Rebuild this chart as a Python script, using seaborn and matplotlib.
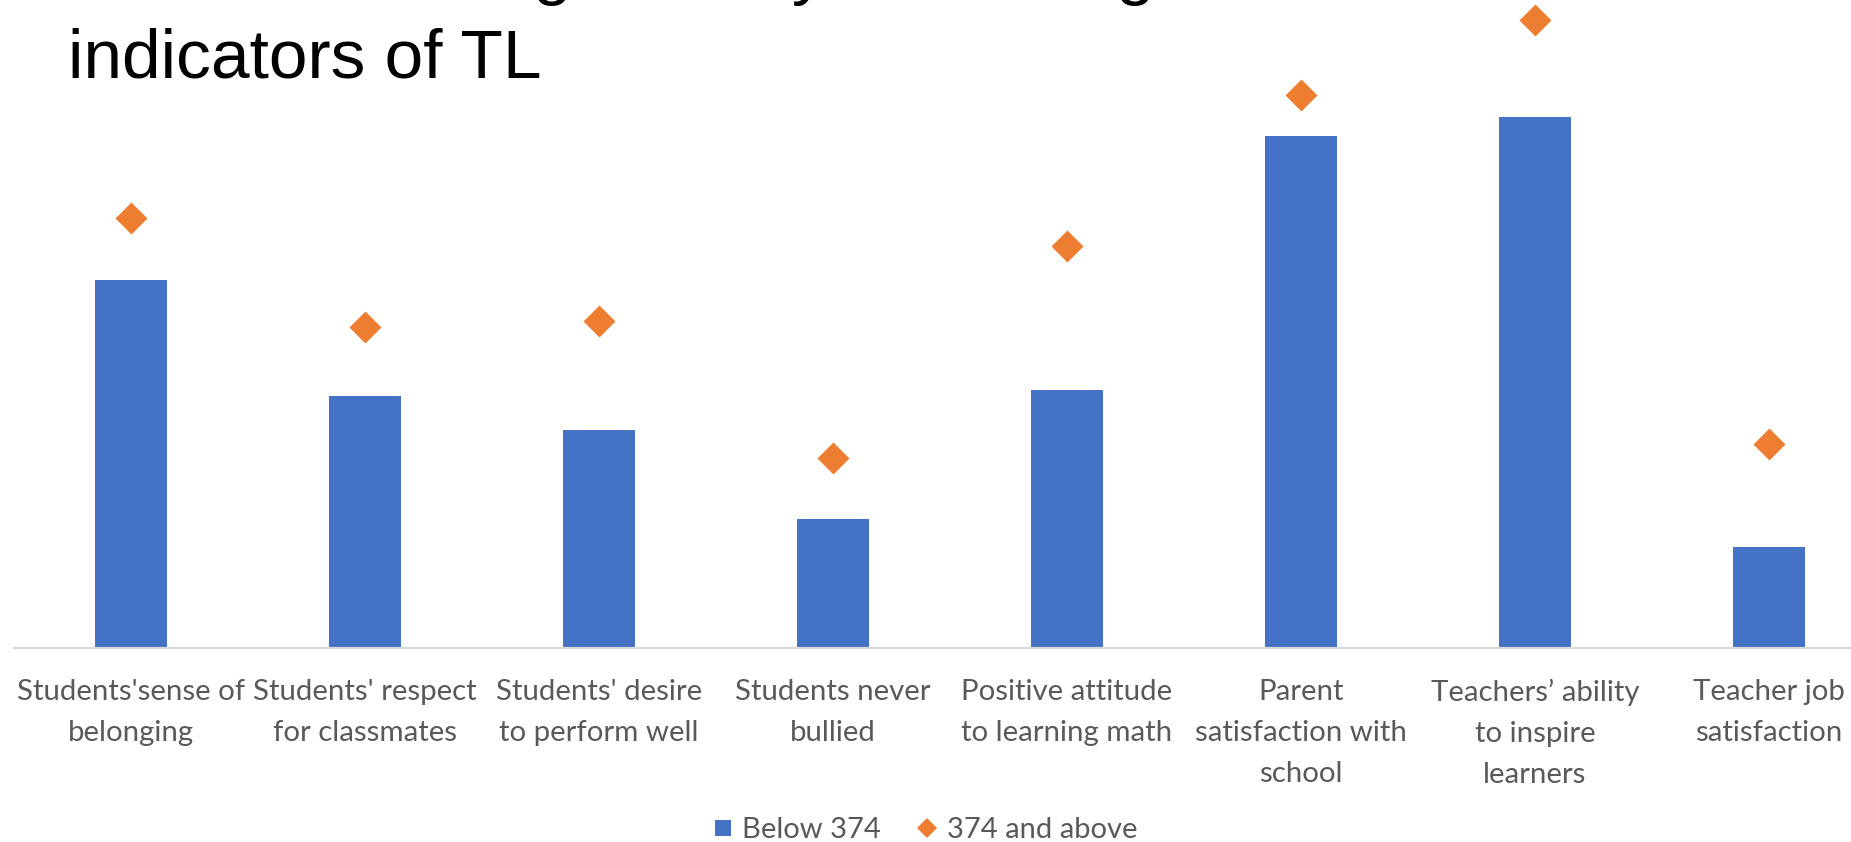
import matplotlib
matplotlib.use("Agg")
import matplotlib.pyplot as plt
from matplotlib.lines import Line2D
import seaborn as sns
import pandas as pd

categories = [
    "Students'sense of\nbelonging",
    "Students' respect\nfor classmates",
    "Students' desire\nto perform well",
    "Students never\nbullied",
    "Positive attitude\nto learning math",
    "Parent\nsatisfaction with\nschool",
    "Teachers\u2019 ability\nto inspire\nlearners",
    "Teacher job\nsatisfaction",
]
below_374 = [36.8, 25.2, 21.8, 12.9, 25.8, 51.2, 53.1, 10.1]
above_374 = [43.0, 32.1, 32.7, 19.0, 40.2, 55.3, 62.8, 20.4]
series_names = ["Below 374", "374 and above"]
title_lines = ["Schools' scoring level by the strongest", "indicators of TL"]

BLUE = "#4472C4"
ORANGE = "#ED7D31"
GREY_TXT = "#595959"

sns.set_theme(style="white")
plt.rcParams["font.family"] = ["Lato", "DejaVu Sans"]

df = pd.DataFrame({"cat": categories, "below": below_374, "above": above_374})

W, H = 1851, 842
fig = plt.figure(figsize=(W / 100, H / 100), dpi=100)
ax = fig.add_axes([14 / W, (H - 648) / H, 1872 / W, 648 / H])

sns.barplot(data=df, x="cat", y="below", color=BLUE, width=0.31,
            linewidth=0, saturation=1, ax=ax)
sns.pointplot(data=df, x="cat", y="above", color=ORANGE, markers="D",
              linestyle="none", markersize=14.5, ax=ax, zorder=5)
for coll in ax.collections + ax.lines:
    coll.set_clip_on(False)

ax.set_xlim(-0.5, 7.5)
ax.set_ylim(0, 64.8)
ax.set_xlabel("")
ax.set_ylabel("")
ax.set_yticks([])
for s in ["top", "left", "right"]:
    ax.spines[s].set_visible(False)
ax.spines["bottom"].set_color("#D9D9D9")
ax.spines["bottom"].set_linewidth(1.6)
ax.tick_params(axis="x", length=0, pad=22, labelsize=21.2, labelcolor=GREY_TXT)
for lab in ax.get_xticklabels():
    lab.set_linespacing(1.72)

handles = [
    Line2D([], [], linestyle="none", marker="s", markersize=12.2,
           markerfacecolor=BLUE, markeredgewidth=0),
    Line2D([], [], linestyle="none", marker="D", markersize=10.5,
           markerfacecolor=ORANGE, markeredgewidth=0),
]
leg = fig.legend(handles, series_names, loc="center", ncol=2,
                 bbox_to_anchor=(0.4995, (H - 830) / H), frameon=False,
                 fontsize=21, handlelength=0.75, handletextpad=0.3,
                 columnspacing=1.2, borderpad=0, borderaxespad=0)
for t in leg.get_texts():
    t.set_color(GREY_TXT)

fig.text(68 / W, 1 - (-8) / H, title_lines[0], fontsize=50, color="black",
         family=["Liberation Sans", "DejaVu Sans"], ha="left", va="baseline")
fig.text(68 / W, 1 - 77 / H, title_lines[1], fontsize=50, color="black",
         family=["Liberation Sans", "DejaVu Sans"], ha="left", va="baseline")

fig.savefig("out.png", dpi=100)
